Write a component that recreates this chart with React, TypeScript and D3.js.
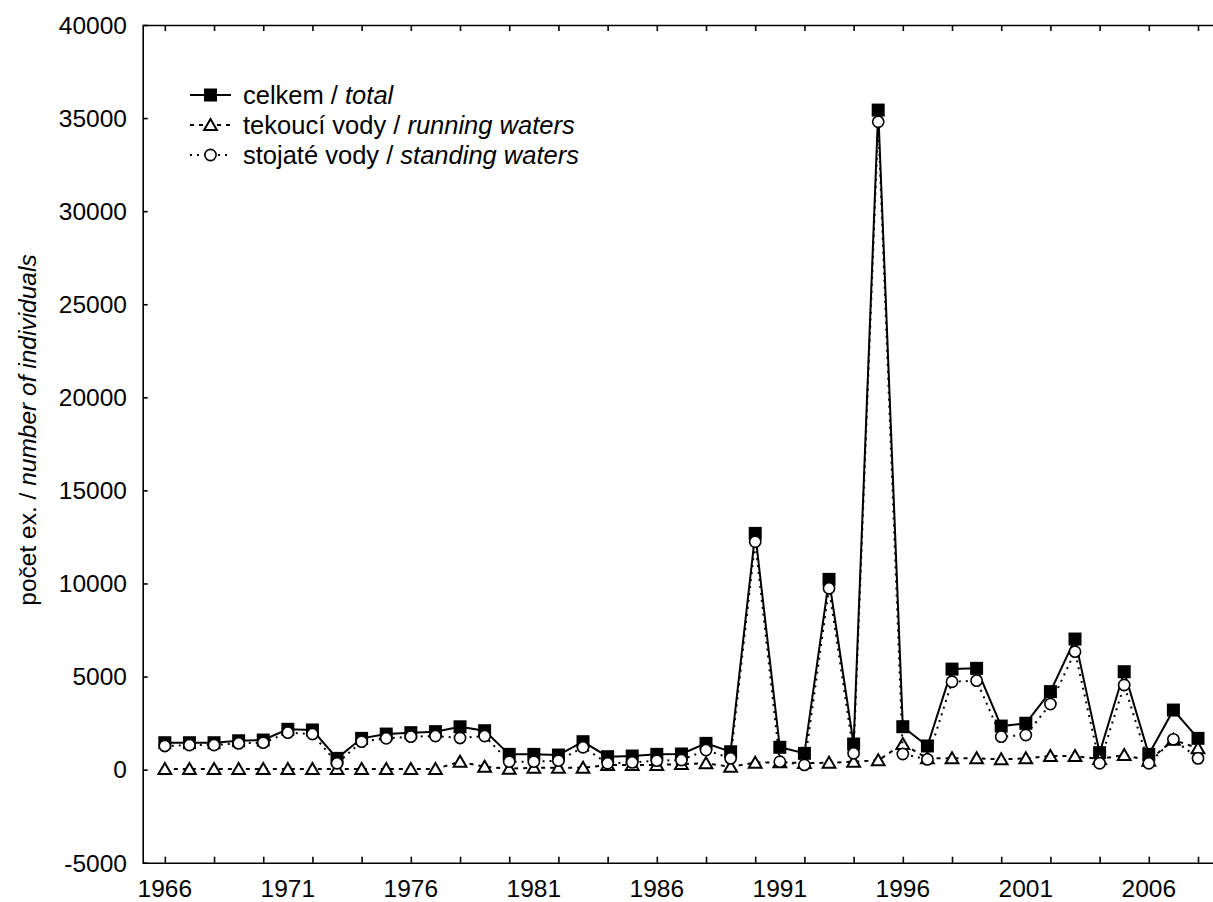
import React, { useEffect, useRef } from "react";
import * as d3 from "d3";

// years 1966 - 2008
const years = [
  1966, 1967, 1968, 1969, 1970, 1971, 1972, 1973, 1974, 1975, 1976, 1977, 1978,
  1979, 1980, 1981, 1982, 1983, 1984, 1985, 1986, 1987, 1988, 1989, 1990, 1991,
  1992, 1993, 1994, 1995, 1996, 1997, 1998, 1999, 2000, 2001, 2002, 2003, 2004,
  2005, 2006, 2007, 2008,
];

// celkem / total
const total = [
  1445, 1445, 1445, 1550, 1590, 2165, 2130, 605, 1680, 1910, 1985, 2040, 2300,
  2090, 820, 820, 785, 1500, 695, 730, 820, 840, 1410, 960, 12690, 1200, 875,
  10220, 1375, 35430, 2305, 1270, 5400, 5440, 2340, 2490, 4190, 7015, 910, 5260,
  820, 3200, 1680,
];

// tekoucí vody / running waters
const running = [
  30, 30, 30, 30, 30, 30, 30, 30, 30, 30, 30, 30, 425, 155, 50, 100, 100, 100,
  250, 250, 250, 300, 340, 155, 370, 400, 350, 370, 425, 500, 1375, 605, 605,
  605, 550, 605, 730, 730, 570, 785, 480, 1600, 1150,
];

// stojaté vody / standing waters
const standing = [
  1270, 1320, 1320, 1410, 1445, 1985, 1910, 340, 1500, 1680, 1770, 1805, 1700,
  1805, 425, 425, 480, 1200, 340, 390, 480, 515, 1050, 605, 12240, 425, 250,
  9740, 875, 34800, 840, 550, 4720, 4780, 1770, 1860, 3520, 6335, 340, 4545, 340,
  1630, 605,
];

const xLabels = [1966, 1971, 1976, 1981, 1986, 1991, 1996, 2001, 2006];
const xTicks = [
  1966, 1968, 1970, 1972, 1974, 1976, 1978, 1980, 1982, 1984, 1986, 1988, 1990,
  1992, 1994, 1996, 1998, 2000, 2002, 2004, 2006, 2008,
];
const yTicks = [-5000, 0, 5000, 10000, 15000, 20000, 25000, 30000, 35000, 40000];

const W = 1213;
const H = 902;
const FONT = "'Liberation Sans', Arial, sans-serif";

function App() {
  const ref = useRef<SVGSVGElement>(null);

  useEffect(() => {
    const svg = d3.select(ref.current);
    svg.selectAll("*").remove();

    const x = d3.scaleLinear().domain([1965.1, 2009]).range([142.7, 1222.6]);
    const y = d3.scaleLinear().domain([-5000, 40000]).range([862.7, 25]);
    const left = x(1965.1);
    const top = y(40000);
    const bottom = y(-5000);

    const g = svg.append("g");

    // axes: ticks inward, labels separately
    const bottomTicks = g
      .append("g")
      .attr("transform", `translate(0,${bottom})`)
      .call(
        d3.axisBottom(x).tickValues(xTicks).tickSizeInner(-6).tickSizeOuter(0).tickFormat(() => "")
      );
    const topTicks = g
      .append("g")
      .attr("transform", `translate(0,${top})`)
      .call(
        d3.axisTop(x).tickValues(xTicks).tickSizeInner(-6).tickSizeOuter(0).tickFormat(() => "")
      );
    const leftTicks = g
      .append("g")
      .attr("transform", `translate(${left},0)`)
      .call(
        d3.axisLeft(y).tickValues(yTicks).tickSizeInner(-5).tickSizeOuter(0).tickFormat(() => "")
      );
    [bottomTicks, topTicks, leftTicks].forEach((a) => {
      a.selectAll("path, line").attr("stroke", "#000").attr("stroke-width", 1.6);
    });

    g.append("g")
      .selectAll("text")
      .data(xLabels)
      .enter()
      .append("text")
      .attr("x", (d) => x(d))
      .attr("y", 897)
      .attr("text-anchor", "middle")
      .style("font-family", FONT)
      .style("font-size", "24.5px")
      .text((d) => d);

    g.append("g")
      .selectAll("text")
      .data(yTicks)
      .enter()
      .append("text")
      .attr("x", 127)
      .attr("y", (d) => y(d) + 8.8)
      .attr("text-anchor", "end")
      .style("font-family", FONT)
      .style("font-size", "24.5px")
      .text((d) => d);

    // y axis title
    const title = g
      .append("text")
      .attr("transform", `translate(36,430) rotate(-90)`)
      .attr("text-anchor", "middle")
      .style("font-family", FONT)
      .style("font-size", "24.5px");
    title.append("tspan").text("počet ex. / ");
    title.append("tspan").style("font-style", "italic").text("number of individuals");

    const line = d3
      .line<number>()
      .x((_, i) => x(years[i]))
      .y((d) => y(d));

    const tri = (s: number) =>
      `M0,${-s * 0.55}L${s * 0.58},${s * 0.45}L${-s * 0.58},${s * 0.45}Z`;

    // celkem / total
    g.append("path")
      .attr("d", line(total))
      .attr("fill", "none")
      .attr("stroke", "#000")
      .attr("stroke-width", 2);
    g.append("g")
      .selectAll("rect")
      .data(total)
      .enter()
      .append("rect")
      .attr("x", (_, i) => x(years[i]) - 6.5)
      .attr("y", (d) => y(d) - 6.5)
      .attr("width", 13)
      .attr("height", 13)
      .attr("fill", "#000");

    // tekoucí vody / running waters
    g.append("path")
      .attr("d", line(running))
      .attr("fill", "none")
      .attr("stroke", "#000")
      .attr("stroke-width", 2)
      .attr("stroke-dasharray", "4,5");
    g.append("g")
      .selectAll("path")
      .data(running)
      .enter()
      .append("path")
      .attr("d", tri(11))
      .attr("transform", (d, i) => `translate(${x(years[i])},${y(d)})`)
      .attr("fill", "#fff")
      .attr("stroke", "#000")
      .attr("stroke-width", 2);

    // stojaté vody / standing waters
    g.append("path")
      .attr("d", line(standing))
      .attr("fill", "none")
      .attr("stroke", "#000")
      .attr("stroke-width", 2)
      .attr("stroke-dasharray", "2,5");
    g.append("g")
      .selectAll("circle")
      .data(standing)
      .enter()
      .append("circle")
      .attr("cx", (_, i) => x(years[i]))
      .attr("cy", (d) => y(d))
      .attr("r", 5.6)
      .attr("fill", "#fff")
      .attr("stroke", "#000")
      .attr("stroke-width", 1.6);

    // legend
    const legend = g.append("g").attr("transform", "translate(190,0)");
    const rows = [
      { a: "celkem / ", b: "total", dash: null, mark: "square", cy: 95 },
      { a: "tekoucí vody / ", b: "running waters", dash: "4,5", mark: "tri", cy: 125 },
      { a: "stojaté vody / ", b: "standing waters", dash: "2,5", mark: "circle", cy: 155 },
    ];
    rows.forEach((r) => {
      legend
        .append("line")
        .attr("x1", 0)
        .attr("x2", 41)
        .attr("y1", r.cy)
        .attr("y2", r.cy)
        .attr("stroke", "#000")
        .attr("stroke-width", 2)
        .attr("stroke-dasharray", r.dash);
      if (r.mark === "square") {
        legend
          .append("rect")
          .attr("x", 20.5 - 6.5)
          .attr("y", r.cy - 6.5)
          .attr("width", 13)
          .attr("height", 13)
          .attr("fill", "#000");
      } else if (r.mark === "tri") {
        legend
          .append("path")
          .attr("d", tri(11))
          .attr("transform", `translate(20.5,${r.cy})`)
          .attr("fill", "#fff")
          .attr("stroke", "#000")
          .attr("stroke-width", 2);
      } else {
        legend
          .append("circle")
          .attr("cx", 20.5)
          .attr("cy", r.cy)
          .attr("r", 5.6)
          .attr("fill", "#fff")
          .attr("stroke", "#000")
          .attr("stroke-width", 1.6);
      }
      const t = legend
        .append("text")
        .attr("x", 53)
        .attr("y", r.cy + 9)
        .style("font-family", FONT)
        .style("font-size", "25.5px");
      t.append("tspan").text(r.a);
      t.append("tspan").style("font-style", "italic").text(r.b);
    });
  });

  return (
    <svg
      ref={ref}
      width={W}
      height={H}
      style={{ position: "absolute", left: 0, top: 0, background: "#fff" }}
    />
  );
}

export default App;
